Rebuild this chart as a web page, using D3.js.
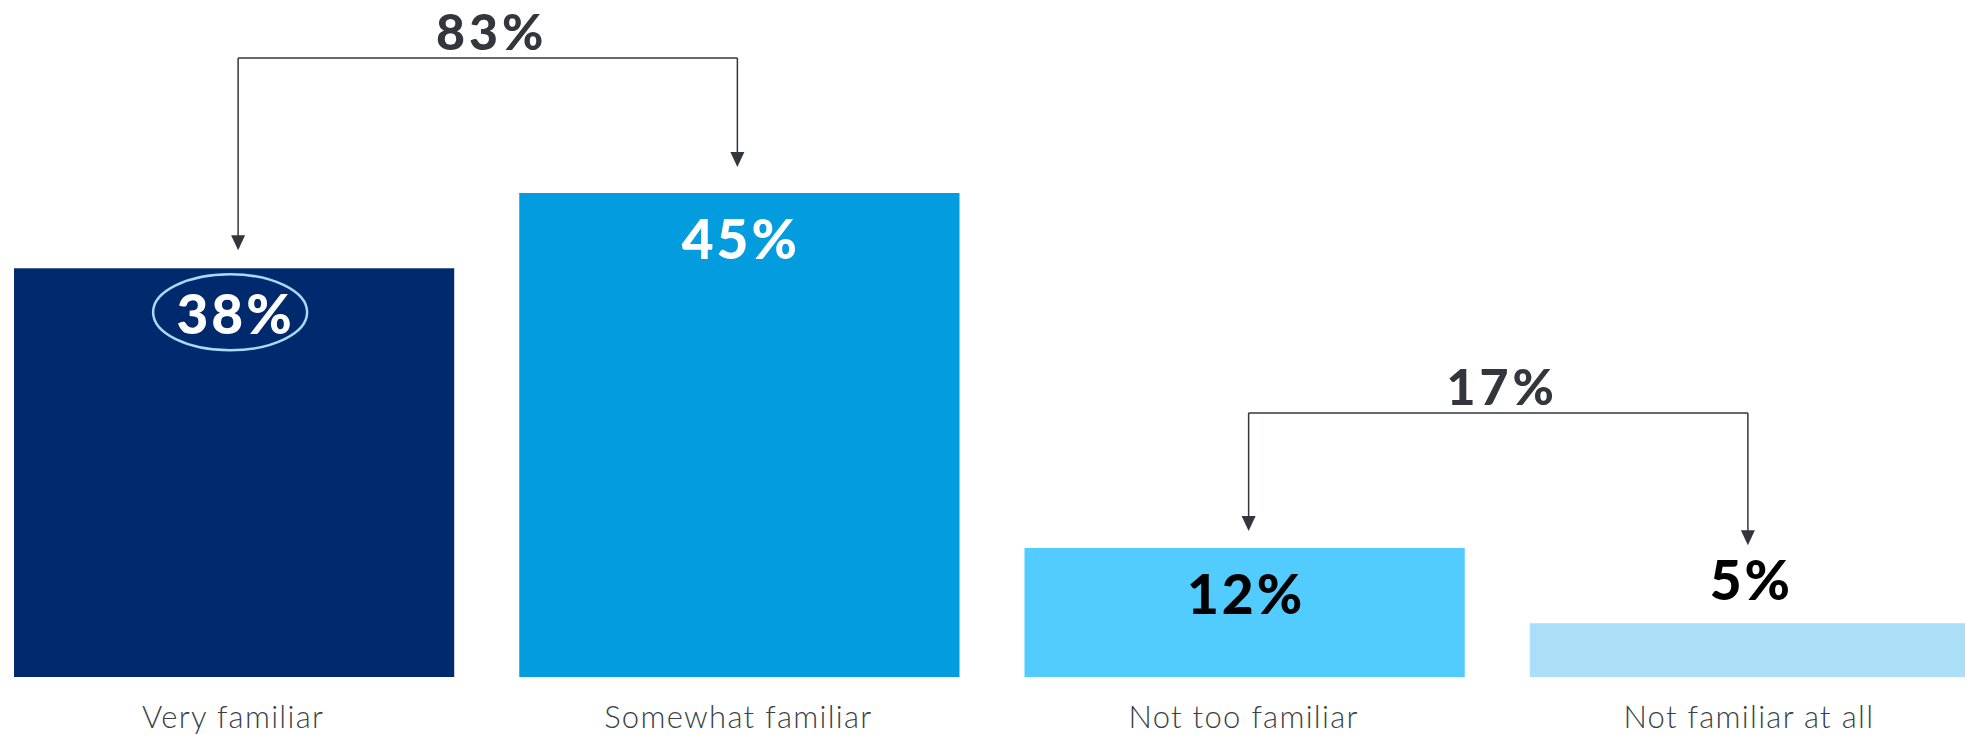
<!DOCTYPE html>
<html>
<head>
<meta charset="utf-8">
<script src="https://cdn.jsdelivr.net/npm/d3@7"></script>
<style>
  html, body { margin: 0; padding: 0; background: #fff; }
  svg { display: block; }
</style>
</head>
<body>
<svg id="chart" width="1965" height="735"></svg>
<script>
// Familiarity levels and the share of respondents in each
const categories = ["Very familiar", "Somewhat familiar", "Not too familiar", "Not familiar at all"];
const values = [38, 45, 12, 5];
const barColors = ["#00296e", "#039ddf", "#52cbfe", "#aadff7"];
const labelColors = ["#ffffff", "#ffffff", "#000000", "#000000"];
// Bracket groups: indices of the bars whose shares are summed
const groups = [[0, 1], [2, 3]];

const svg = d3.select("#chart");

const x = d3.scaleBand()
  .domain(categories)
  .range([14, 1970])
  .paddingInner(0.1287)
  .paddingOuter(0);

const y = d3.scaleLinear()
  .domain([0, 45])
  .range([677, 193]);

const valueFont = "Lato, 'DejaVu Sans', sans-serif";
const catFont = "Lato, 'Open Sans', sans-serif";

// bars
svg.append("g")
  .selectAll("rect")
  .data(values)
  .join("rect")
  .attr("x", (d, i) => x(categories[i]))
  .attr("y", d => y(d))
  .attr("width", x.bandwidth())
  .attr("height", d => y(0) - y(d))
  .attr("fill", (d, i) => barColors[i]);

// value labels: inside tall bars, above short ones
const labelOffsetInside = 66;
const labelOffsetAbove = 23;
const capH = 39;
function labelBaseline(d) {
  const h = y(0) - y(d);
  return h > 100 ? y(d) + labelOffsetInside : y(d) - labelOffsetAbove;
}
function markTop(d) {
  const h = y(0) - y(d);
  return h > 100 ? y(d) : labelBaseline(d) - capH;
}

const cx = i => x(categories[i]) + x.bandwidth() / 2;

svg.append("g")
  .selectAll("text")
  .data(values)
  .join("text")
  .attr("x", (d, i) => cx(i) + 1.5)
  .attr("y", d => labelBaseline(d))
  .attr("text-anchor", "middle")
  .attr("font-family", valueFont)
  .attr("font-weight", 900)
  .attr("font-size", 55)
  .attr("letter-spacing", 3)
  .attr("fill", (d, i) => labelColors[i])
  .text(d => d + "%");

// highlight ring around the first value
svg.append("ellipse")
  .attr("cx", cx(0) - 4)
  .attr("cy", labelBaseline(values[0]) - 22)
  .attr("rx", 77)
  .attr("ry", 38)
  .attr("fill", "none")
  .attr("stroke", "#a6dbf5")
  .attr("stroke-width", 2.5);

// category labels
svg.append("g")
  .selectAll("text")
  .data(categories)
  .join("text")
  .attr("x", (d, i) => cx(i) - 1)
  .attr("y", 728)
  .attr("text-anchor", "middle")
  .attr("font-family", catFont)
  .attr("font-weight", 300)
  .attr("font-size", 31)
  .attr("letter-spacing", 1.3)
  .attr("fill", "#3a3f48")
  .text(d => d);

// bracket arrows combining pairs of bars
const tipGap = [18, 26, 17, 16];
const bracketRise = 135;
const ink = "#33363d";
const bg = svg.append("g");
groups.forEach(([a, b]) => {
  const xa = cx(a) + 4, xb = cx(b) - 2;
  const topY = Math.min(markTop(values[a]), markTop(values[b])) - bracketRise;
  [[a, xa], [b, xb]].forEach(([i, xx]) => {
    const tip = markTop(values[i]) - tipGap[i];
    bg.append("path")
      .attr("d", `M${xx},${topY}V${tip - 14}`)
      .attr("stroke", ink)
      .attr("stroke-width", 1.5)
      .attr("fill", "none");
    bg.append("path")
      .attr("d", `M${xx - 7},${tip - 15}L${xx + 7},${tip - 15}L${xx},${tip}Z`)
      .attr("fill", ink);
  });
  bg.append("path")
    .attr("d", `M${xa},${topY}H${xb}`)
    .attr("stroke", ink)
    .attr("stroke-width", 1.5)
    .attr("fill", "none");
  bg.append("text")
    .attr("x", (xa + xb) / 2 + 4)
    .attr("y", topY - 8)
    .attr("text-anchor", "middle")
    .attr("font-family", valueFont)
    .attr("font-weight", 900)
    .attr("font-size", 50)
    .attr("letter-spacing", 4)
    .attr("fill", ink)
    .text((values[a] + values[b]) + "%");
});
</script>
</body>
</html>
